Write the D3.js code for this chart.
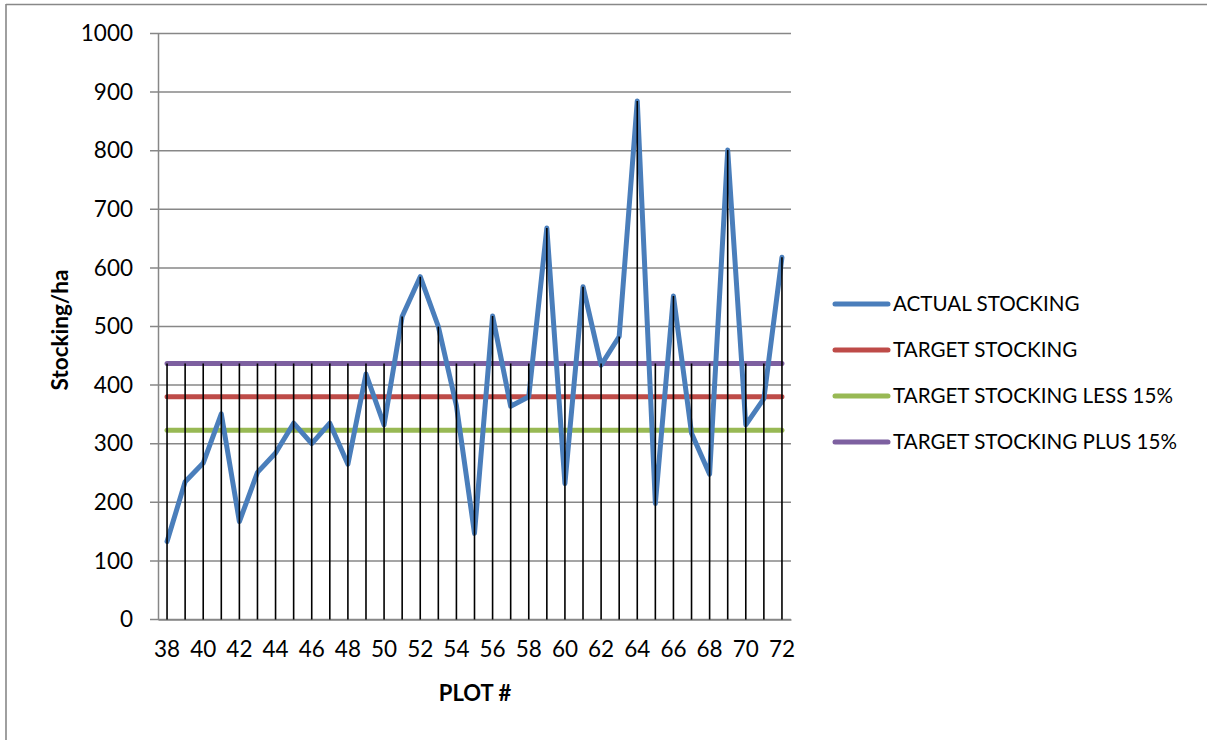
<!DOCTYPE html>
<html>
<head>
<meta charset="utf-8">
<script src="https://cdn.jsdelivr.net/npm/d3@7/dist/d3.min.js"></script>
<style>
  html, body { margin: 0; padding: 0; background: #fff; }
  svg { display: block; }
  text { font-family: Lato, "Open Sans", sans-serif; fill: #000; }
</style>
</head>
<body>
<svg id="chart" width="1207" height="740"></svg>
<script>
// ---- data ----
const plots = [38,39,40,41,42,43,44,45,46,47,48,49,50,51,52,53,54,55,56,57,58,59,60,61,62,63,64,65,66,67,68,69,70,71,72];
const actualStocking = [133,235,267,351,167,251,284,335,300,335,265,419,332,517,585,500,365,147,518,364,380,668,232,568,434,483,885,198,552,318,248,801,332,377,618];
const targetStocking = 380;
const targetLess15 = 323;
const targetPlus15 = 437;
const yTicks = [0,100,200,300,400,500,600,700,800,900,1000];
const xTickLabels = [38,40,42,44,46,48,50,52,54,56,58,60,62,64,66,68,70,72];
const seriesNames = ["ACTUAL STOCKING","TARGET STOCKING","TARGET STOCKING LESS 15%","TARGET STOCKING PLUS 15%"];
const seriesColors = ["#4A7EBB","#BE4B48","#98B954","#7D60A0"];

// ---- layout ----
const svg = d3.select("#chart");
const margin = {left: 158, top: 33.5};
const width = 633, height = 586;
const g = svg.append("g").attr("transform", `translate(${margin.left},${margin.top})`);

// outer frame (top and left edges visible)
svg.append("line").attr("x1", 6).attr("x2", 1207).attr("y1", 4.5).attr("y2", 4.5)
  .attr("stroke", "#888").attr("stroke-width", 1.6);
svg.append("line").attr("x1", 6).attr("x2", 6).attr("y1", 4).attr("y2", 740)
  .attr("stroke", "#888").attr("stroke-width", 1.6);

const x = d3.scaleBand().domain(plots).range([0, width]).paddingInner(0).paddingOuter(0);
const cx = d => x(d) + x.bandwidth() / 2;
const y = d3.scaleLinear().domain([0, 1000]).range([height, 0]);

// gridlines
g.append("g").selectAll("line").data(yTicks).join("line")
  .attr("x1", -8).attr("x2", width)
  .attr("y1", d => y(d)).attr("y2", d => y(d))
  .attr("stroke", "#878787").attr("stroke-width", 1.5);

// y axis
const yAxis = g.append("g").call(d3.axisLeft(y).tickValues(yTicks).tickFormat(d3.format("d"))
  .tickSize(0).tickPadding(25));
yAxis.select(".domain").attr("stroke", "#878787").attr("stroke-width", 1.5);
yAxis.selectAll("text").attr("font-size", 22.5).attr("font-family", "Lato, sans-serif");

// x axis
const xAxis = g.append("g").attr("transform", `translate(0,${height})`)
  .call(d3.axisBottom(x).tickSize(0).tickPadding(22)
    .tickFormat(d => xTickLabels.includes(d) ? d : ""));
xAxis.select(".domain").attr("stroke", "#878787").attr("stroke-width", 1.5);
xAxis.selectAll("text").attr("font-size", 22.5).attr("font-family", "Lato, sans-serif");

// reference lines
const refValues = [targetStocking, targetLess15, targetPlus15];
const refTop = d3.max(refValues);
[1, 2, 3].forEach((si, k) => {
  const v = refValues[k];
  const line = d3.line().x(d => cx(d)).y(() => y(v));
  g.append("path").datum(plots).attr("d", line)
    .attr("fill", "none").attr("stroke", seriesColors[si]).attr("stroke-width", 5)
    .attr("stroke-linecap", "round");
});

// actual stocking
const actualLine = d3.line().x((d, i) => cx(plots[i])).y(d => y(d));
g.append("path").datum(actualStocking).attr("d", actualLine)
  .attr("fill", "none").attr("stroke", seriesColors[0]).attr("stroke-width", 5)
  .attr("stroke-linejoin", "round").attr("stroke-linecap", "round");

// drop lines
g.append("g").selectAll("line").data(plots).join("line")
  .attr("x1", d => cx(d)).attr("x2", d => cx(d))
  .attr("y1", (d, i) => y(Math.max(actualStocking[i], refTop)))
  .attr("y2", y(0))
  .attr("stroke", "#000").attr("stroke-width", 1.6);

// axis titles
svg.append("text").attr("transform", "translate(68,330) rotate(-90)")
  .attr("text-anchor", "middle").attr("font-weight", "bold").attr("font-size", 22.5)
  .text("Stocking/ha");
svg.append("text").attr("x", 475).attr("y", 701)
  .attr("text-anchor", "middle").attr("font-weight", "bold").attr("font-size", 22)
  .text("PLOT #");

// legend
const legend = svg.append("g");
seriesNames.forEach((name, i) => {
  const ly = 304 + i * 46;
  legend.append("line").attr("x1", 835).attr("x2", 888).attr("y1", ly).attr("y2", ly)
    .attr("stroke", seriesColors[i]).attr("stroke-width", 5).attr("stroke-linecap", "round");
  legend.append("text").attr("x", 893).attr("y", ly).attr("dy", "0.35em")
    .attr("font-size", 20.6).text(name);
});
</script>
</body>
</html>
